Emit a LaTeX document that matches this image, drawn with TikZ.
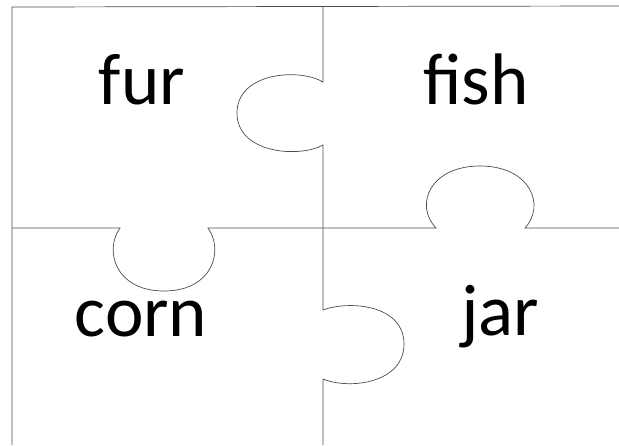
\documentclass[tikz,border=0pt]{standalone}
\usepackage{fontspec}
\setmainfont{Carlito}
\begin{document}
\begin{tikzpicture}[x=1pt,y=-1pt,
    cut/.style={draw=black!70, line width=0.7pt},
    word/.style={anchor=base, font=\fontsize{73}{80}\selectfont}]

        \def\xl{12}
        \def\xm{323}
        \def\ym{228}
        \useasboundingbox (0,0) rectangle (619,445);

        % words on the four pieces
        \node[word] (fur) at (142,104) {fur};
        \node[word] (fish) at (476,104) {fish};
        \node[word] (corn) at (141,336) {corn};
        \node[word] (jar) at (500,335) {jar};

        % outer edges
        \draw[cut] (619,6) -- (\xl,7) -- (\xl,445);

        % upper middle cut, knob to the left
        \draw[cut] (\xm,7) -- (\xm,82)
            .. controls (300,68) and (237,72) .. (237,113)
            .. controls (237,154) and (300,158) .. (\xm,145) -- (\xm,\ym);

        % lower middle cut, knob to the right
        \draw[cut] (\xm,\ym) -- (\xm,310)
            .. controls (350,300) and (404,305) .. (404,344)
            .. controls (404,383) and (350,390) .. (\xm,379) -- (\xm,445);

        % left cross cut, knob down
        \draw[cut] (\xl,\ym) -- (120,\ym)
            .. controls (104,250) and (115,291) .. (164,291)
            .. controls (213,291) and (224,250) .. (208,\ym) -- (\xm,\ym);

        % right cross cut, knob up
        \draw[cut] (\xm,\ym) -- (436,\ym)
            .. controls (414,205) and (430,166) .. (480,166)
            .. controls (530,166) and (546,205) .. (525,\ym) -- (619,\ym);

    \end{tikzpicture}
\end{document}
